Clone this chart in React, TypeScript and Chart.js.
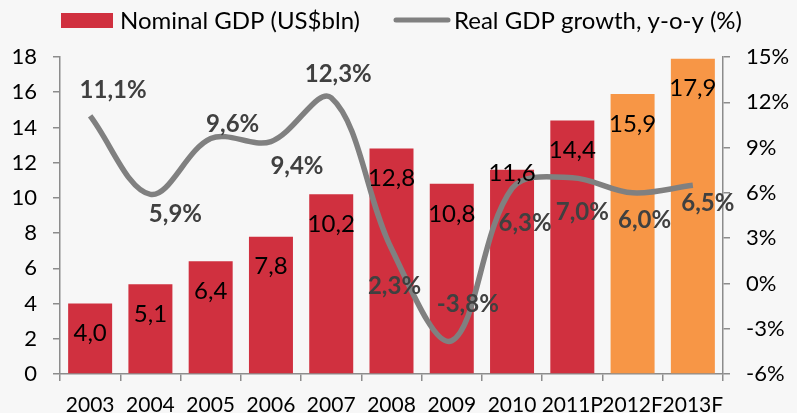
import React, { useEffect, useRef } from "react";
import { Chart, registerables } from "chart.js";

Chart.register(...registerables);

const categories = ["2003", "2004", "2005", "2006", "2007", "2008", "2009", "2010", "2011P", "2012F", "2013F"];
const nominalGdp = [4.0, 5.1, 6.4, 7.8, 10.2, 12.8, 10.8, 11.6, 14.4, 15.9, 17.9];
const realGrowth = [11.1, 5.9, 9.6, 9.4, 12.3, 2.3, -3.8, 6.3, 7.0, 6.0, 6.5];
const barLegend = "Nominal GDP (US$bln)";
const lineLegend = "Real GDP growth, y-o-y (%)";

// label nudges (pixels relative to the point), style only
const lineLabelNudge: [number, number][] = [
  [23, -26], [25, 20], [22, -14], [26, 25], [7, -23], [3, 38], [16, -37], [13, 35], [10, 35], [12, 27], [15, 18],
];
const barLabelAtTop = new Set(["2010"]);

const RED = "#D0303F";
const ORANGE = "#F79646";
const FONT = "Lato";

const fmt = (v: number) => v.toFixed(1).replace(".", ",");

export default function App() {
  const ref = useRef<HTMLCanvasElement>(null);
  useEffect(() => {
    const canvas = ref.current!;
    const bg = {
      id: "bg",
      beforeDraw(chart: any) {
        const c = chart.ctx;
        c.save();
        c.fillStyle = "#f7f7f7";
        c.fillRect(0, 0, chart.width, chart.height);
        c.restore();
      },
    };
    const labels = {
      id: "labels",
      afterDatasetsDraw(chart: any) {
        const c = chart.ctx;
        c.save();
        c.textAlign = "center";
        c.textBaseline = "middle";
        const barMeta = chart.getDatasetMeta(0);
        c.font = `24px ${FONT}`;
        c.fillStyle = "#000";
        barMeta.data.forEach((el: any, i: number) => {
          const dy = barLabelAtTop.has(categories[i]) ? 4 : 30;
          c.fillText(fmt(nominalGdp[i]), el.x, el.y + dy);
        });
        const lineMeta = chart.getDatasetMeta(1);
        c.font = `bold 24px ${FONT}`;
        c.fillStyle = "#404040";
        lineMeta.data.forEach((el: any, i: number) => {
          const [dx, dy] = lineLabelNudge[i];
          c.fillText(fmt(realGrowth[i]) + "%", el.x + dx, el.y + dy);
        });
        c.restore();
      },
      afterDraw(chart: any) {
        const c = chart.ctx;
        c.save();
        c.fillStyle = RED;
        c.fillRect(61, 13, 52, 15);
        c.font = `24px ${FONT}`;
        c.fillStyle = "#000";
        c.textBaseline = "middle";
        c.textAlign = "left";
        c.fillText(barLegend, 120, 21);
        c.strokeStyle = "#808080";
        c.lineWidth = 5;
        c.lineCap = "round";
        c.beginPath();
        c.moveTo(396, 20);
        c.lineTo(448, 20);
        c.stroke();
        c.fillText(lineLegend, 454, 21);
        c.restore();
      },
    };
    const axisColor = "#8c8c8c";
    const tickFont = { family: FONT, size: 21 };
    const chart = new Chart(canvas, {
      data: {
        labels: categories,
        datasets: [
          {
            type: "bar",
            label: barLegend,
            data: nominalGdp,
            backgroundColor: categories.map((c) => (c.endsWith("F") ? ORANGE : RED)),
            yAxisID: "y",
            order: 2,
            categoryPercentage: 1,
            barPercentage: 0.73,
          },
          {
            type: "line",
            label: lineLegend,
            data: realGrowth,
            borderColor: "#808080",
            borderWidth: 5.5,
            pointRadius: 0,
            tension: 0.35,
            yAxisID: "y1",
            order: 1,
          },
        ],
      } as any,
      options: {
        responsive: false,
        animation: false,
        layout: { padding: { top: 57, left: 0, right: 0, bottom: 0 } },
        plugins: { legend: { display: false }, tooltip: { enabled: false } },
        scales: {
          x: {
            offset: true,
            grid: { offset: true, drawOnChartArea: false, tickLength: 7, color: axisColor, lineWidth: 1.5 },
            border: { color: axisColor, width: 1.5 },
            ticks: { font: tickFont, color: "#000", padding: 12, maxRotation: 0, autoSkip: false },
            afterFit: (s: any) => { s.height = 39; },
          },
          y: {
            position: "left",
            min: 0,
            max: 18,
            grid: { drawOnChartArea: false, tickLength: 7, color: axisColor, lineWidth: 1.5 },
            border: { color: axisColor, width: 1.5 },
            ticks: { stepSize: 2, font: { family: FONT, size: 22 }, color: "#000", padding: 16 },
            afterFit: (s: any) => { s.width = 60; },
          },
          y1: {
            position: "right",
            min: -6,
            max: 15,
            grid: { drawOnChartArea: false, tickLength: 7, color: axisColor, lineWidth: 1.5 },
            border: { color: axisColor, width: 1.5 },
            ticks: { stepSize: 3, font: { family: FONT, size: 22 }, color: "#000", padding: 16, callback: (v: any) => v + "%" },
            afterFit: (s: any) => { s.width = 74; },
          },
        },
      } as any,
      plugins: [bg, labels],
    });
    return () => chart.destroy();
  }, []);
  return (
    <div style={{ position: "absolute", left: 0, top: 0, width: 797, height: 413 }}>
      <canvas ref={ref} width={797} height={413} style={{ display: "block" }} />
    </div>
  );
}
